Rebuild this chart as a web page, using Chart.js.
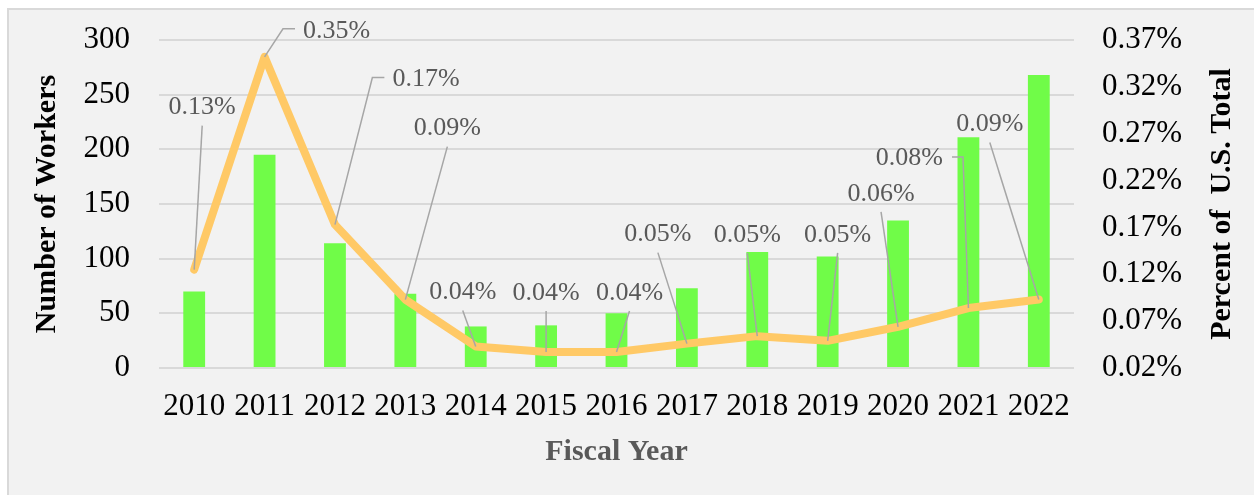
<!DOCTYPE html>
<html>
<head>
<meta charset="utf-8">
<script src="https://cdn.jsdelivr.net/npm/chart.js@4"></script>
<style>
  html, body { margin: 0; padding: 0; background: #ffffff; }
  body { width: 1254px; height: 495px; position: relative; overflow: hidden; }
  #panel { position: absolute; left: 7px; top: 8px; width: 1247px; height: 487px;
           background: #f2f2f2; border-left: 2px solid #d9d9d9; border-top: 2px solid #d9d9d9; box-sizing: border-box; }
  #wrap { position: absolute; left: 0; top: 0; width: 1254px; height: 495px; }
</style>
</head>
<body>
<div id="panel"></div>
<div id="wrap"><canvas id="c" width="1254" height="495"></canvas></div>
<script>
// ---- data ----
const years = ['2010','2011','2012','2013','2014','2015','2016','2017','2018','2019','2020','2021','2022'];
const workers = [70, 195, 114, 68, 38, 39, 50, 73, 106, 102, 135, 211, 268];
const percentUS = [0.125, 0.352, 0.173, 0.093, 0.043, 0.037, 0.037, 0.046, 0.054, 0.049, 0.064, 0.084, 0.093];
const leftTicks = { min: 0, max: 300, step: 50 };
const rightTicks = { min: 0.02, max: 0.37, step: 0.05 };

const serif = "'Liberation Serif', 'Times New Roman', serif";

// label placement (offsets of label centre from the point, in px) and leader style
const labelLayout = [
  { dx: 8,   dy: -162, leader: 'line' },
  { dx: 72,  dy: -26,  leader: 'elbowL' },
  { dx: 91,  dy: -145, leader: 'elbowL' },
  { dx: 42,  dy: -171, leader: 'line' },
  { dx: -13, dy: -54,  leader: 'line' },
  { dx: 0,   dy: -59,  leader: 'line' },
  { dx: 13,  dy: -59,  leader: 'line' },
  { dx: -29, dy: -109, leader: 'line' },
  { dx: -10, dy: -101, leader: 'line' },
  { dx: 10,  dy: -106, leader: 'line' },
  { dx: -17, dy: -133, leader: 'line' },
  { dx: -59, dy: -150, leader: 'elbowR' },
  { dx: -49, dy: -175, leader: 'line' }
];

const dataLabelPlugin = {
  id: 'leaderLabels',
  afterDatasetsDraw(chart) {
    const ctx = chart.ctx;
    const meta = chart.getDatasetMeta(0);
    ctx.save();
    ctx.font = '26px ' + serif;
    ctx.textAlign = 'center';
    ctx.textBaseline = 'middle';
    meta.data.forEach((pt, i) => {
      const lay = labelLayout[i];
      const txt = percentUS[i].toFixed(2) + '%';
      const cx = pt.x + lay.dx, cy = pt.y + lay.dy;
      const w = ctx.measureText(txt).width;
      ctx.strokeStyle = '#a6a6a6';
      ctx.lineWidth = 1.5;
      ctx.beginPath();
      if (lay.leader === 'line') {
        ctx.moveTo(cx, cy + 18);
        ctx.lineTo(pt.x, pt.y);
      } else if (lay.leader === 'elbowL') {
        ctx.moveTo(cx - w / 2 - 8, cy - 2);
        ctx.lineTo(cx - w / 2 - 20, cy - 2);
        ctx.lineTo(pt.x, pt.y);
      } else {
        ctx.moveTo(cx + w / 2 + 9, cy - 1);
        ctx.lineTo(cx + w / 2 + 20, cy - 1);
        ctx.lineTo(pt.x, pt.y);
      }
      ctx.stroke();
      ctx.fillStyle = '#595959';
      ctx.fillText(txt, cx, cy);
    });
    // right axis title, reading bottom to top
    ctx.translate(1222, (chart.chartArea.top + chart.chartArea.bottom) / 2);
    ctx.rotate(-Math.PI / 2);
    ctx.font = 'bold 30px ' + serif;
    ctx.fillStyle = '#000000';
    ctx.fillText('Percent of  U.S. Total', 0, 0);
    ctx.restore();
  }
};

new Chart(document.getElementById('c'), {
  type: 'bar',
  data: {
    labels: years,
    datasets: [
      {
        type: 'line',
        label: 'Percent of U.S. Total',
        data: percentUS,
        yAxisID: 'y2',
        borderColor: '#ffc966',
        backgroundColor: '#ffc966',
        borderWidth: 8,
        borderJoinStyle: 'round',
        borderCapStyle: 'round',
        pointRadius: 0,
        tension: 0,
        order: 0
      },
      {
        type: 'bar',
        label: 'Number of Workers',
        data: workers,
        yAxisID: 'y',
        backgroundColor: '#70fc48',
        categoryPercentage: 1,
        barPercentage: 0.31,
        order: 1
      }
    ]
  },
  options: {
    responsive: false,
    animation: false,
    devicePixelRatio: 1,
    layout: { padding: { top: 40, left: 0, right: 0, bottom: 0 } },
    plugins: { legend: { display: false }, tooltip: { enabled: false } },
    scales: {
      x: {
        grid: { display: false, drawTicks: false },
        border: { display: false },
        ticks: { color: '#000000', font: { family: serif, size: 31 }, padding: 20, maxRotation: 0, autoSkip: false },
        title: { display: true, text: 'Fiscal Year', color: '#595959', font: { family: serif, size: 30, weight: 'bold' }, padding: { top: 0, bottom: 25 } },
        afterFit(s) { s.height = 127; }
      },
      y: {
        position: 'left',
        min: leftTicks.min, max: leftTicks.max,
        grid: { color: '#d9d9d9', lineWidth: 2, drawTicks: false },
        border: { display: false },
        ticks: { stepSize: leftTicks.step, color: '#000000', font: { family: serif, size: 31 }, padding: 29 },
        title: { display: true, text: 'Number of Workers', color: '#000000', font: { family: serif, size: 30, weight: 'bold' }, padding: { top: 29, bottom: 0 } },
        afterFit(s) { s.width = 159; s.paddingTop = 0; s.paddingBottom = 0; }
      },
      y2: {
        position: 'right',
        min: rightTicks.min, max: rightTicks.max,
        grid: { display: false, drawTicks: false },
        border: { display: false },
        ticks: { stepSize: rightTicks.step, color: '#000000', font: { family: serif, size: 31 }, padding: 28,
                 callback: v => v.toFixed(2) + '%' },
        afterFit(s) { s.width = 180; s.paddingTop = 0; s.paddingBottom = 0; }
      }
    }
  },
  plugins: [dataLabelPlugin]
});
</script>
</body>
</html>
